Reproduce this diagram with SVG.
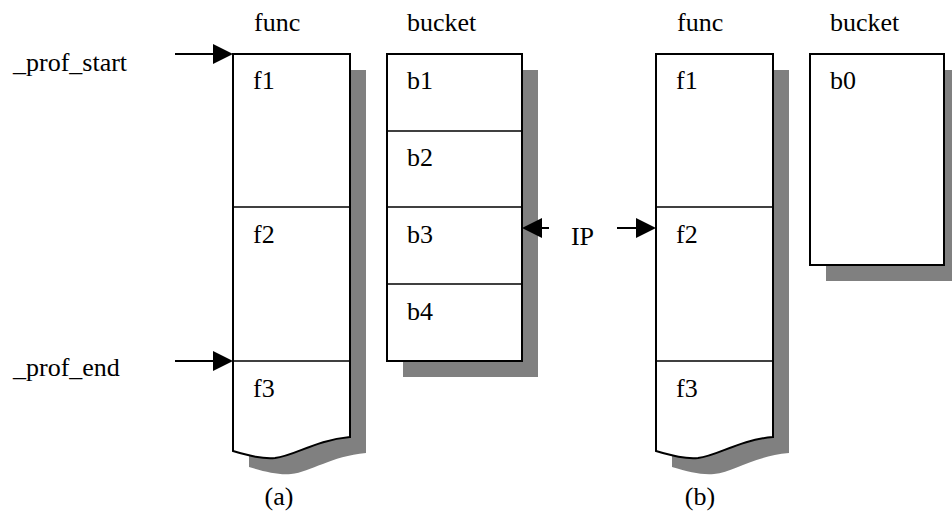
<svg xmlns="http://www.w3.org/2000/svg" width="952" height="516" viewBox="0 0 952 516">
  <defs>
    <style>
      .shadow { fill: #808080; stroke: none; }
      .box { fill: #fff; stroke: #000; stroke-width: 2; }
      .div { stroke: #000; stroke-width: 1.6; fill: none; }
      .wire { stroke: #000; stroke-width: 2; fill: none; }
      .head { fill: #000; stroke: none; }
    </style>
  </defs>

  <rect width="952" height="516" fill="#fff"/>

  <g font-family="Liberation Serif, Times New Roman, serif" font-size="26" fill="#000">
    <!-- column headings -->
    <text x="254" y="31">func</text>
    <text x="407" y="31">bucket</text>
    <text x="677" y="31">func</text>
    <text x="830" y="31">bucket</text>

    <!-- (a) function table -->
    <g id="func-a">
      <path class="shadow" d="M249,70 H366 V453 C331,456 311,472 291,474 C278,475 266,472 249,467 Z"/>
      <path class="box" d="M233,54 H350 V437 C315,440 295,456 275,458 C262,459 250,456 233,451 Z"/>
      <line class="div" x1="233" y1="207" x2="350" y2="207"/>
      <line class="div" x1="233" y1="361" x2="350" y2="361"/>
      <text x="253" y="89">f1</text>
      <text x="253" y="243">f2</text>
      <text x="253" y="397">f3</text>
    </g>

    <!-- (a) bucket table -->
    <g id="bucket-a">
      <rect class="shadow" x="403" y="70" width="135" height="307"/>
      <rect class="box" x="387" y="54" width="135" height="307"/>
      <line class="div" x1="387" y1="131" x2="522" y2="131"/>
      <line class="div" x1="387" y1="207" x2="522" y2="207"/>
      <line class="div" x1="387" y1="284" x2="522" y2="284"/>
      <text x="407" y="89">b1</text>
      <text x="407" y="166">b2</text>
      <text x="407" y="243">b3</text>
      <text x="407" y="320">b4</text>
    </g>

    <!-- (b) function table -->
    <g id="func-b">
      <path class="shadow" d="M672,70 H789 V453 C754,456 734,472 714,474 C701,475 689,472 672,467 Z"/>
      <path class="box" d="M656,54 H773 V437 C738,440 718,456 698,458 C685,459 673,456 656,451 Z"/>
      <line class="div" x1="656" y1="207" x2="773" y2="207"/>
      <line class="div" x1="656" y1="361" x2="773" y2="361"/>
      <text x="676" y="89">f1</text>
      <text x="676" y="243">f2</text>
      <text x="676" y="397">f3</text>
    </g>

    <!-- (b) single bucket -->
    <g id="bucket-b">
      <rect class="shadow" x="826" y="70" width="135" height="211"/>
      <rect class="box" x="810" y="54" width="134" height="211"/>
      <text x="830" y="89">b0</text>
    </g>

    <!-- pointer labels -->
    <g id="label-prof-start"><text x="13" y="71">_prof_start</text></g>
    <g id="label-prof-end"><text x="13" y="376">_prof_end</text></g>
    <g id="label-ip"><text x="594" y="245" text-anchor="end">IP</text></g>

    <!-- sub-figure captions -->
    <text x="279" y="505" text-anchor="middle">(a)</text>
    <text x="700" y="505" text-anchor="middle">(b)</text>
  </g>

  <!-- pointer arrows -->
  <g id="connectors">
    <line class="wire" x1="175" y1="54" x2="215" y2="54"/>
    <polygon class="head" points="233,54 213,44 213,64"/>

    <line class="wire" x1="175" y1="361" x2="215" y2="361"/>
    <polygon class="head" points="233,361 213,351 213,371"/>

    <line class="wire" x1="549" y1="228" x2="540" y2="228"/>
    <polygon class="head" points="522,228 542,218 542,238"/>

    <line class="wire" x1="617" y1="228" x2="638" y2="228"/>
    <polygon class="head" points="656,228 636,218 636,238"/>
  </g>
</svg>
